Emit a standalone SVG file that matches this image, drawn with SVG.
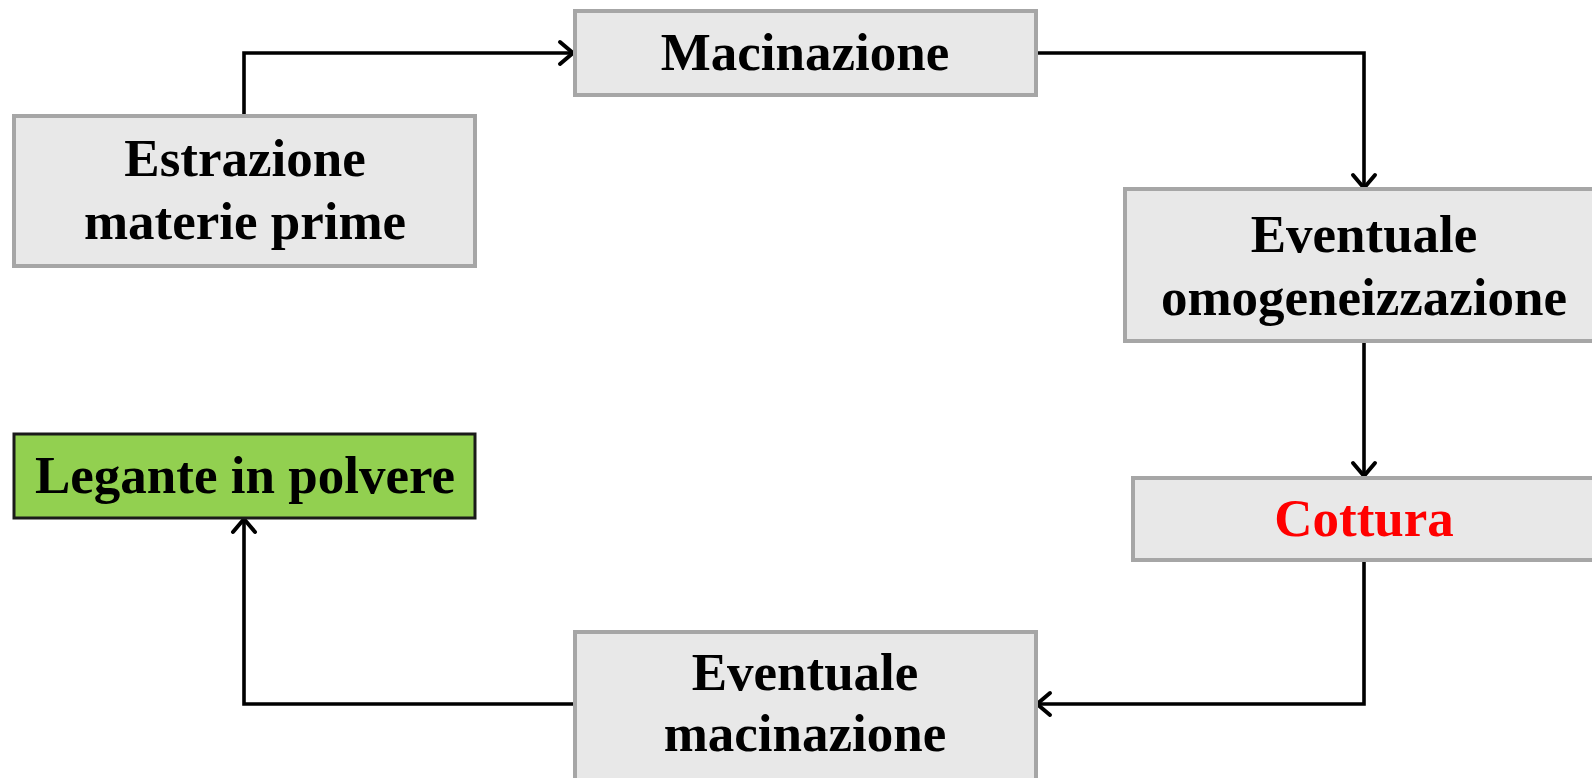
<svg xmlns="http://www.w3.org/2000/svg" width="1592" height="778" viewBox="0 0 1592 778">
<defs>
<marker id="arr" viewBox="0 0 30 30" refX="27" refY="15" markerWidth="30" markerHeight="30" markerUnits="userSpaceOnUse" orient="auto">
<path d="M14,4 L27,15 L14,26" fill="none" stroke="#000" stroke-width="4" stroke-linecap="round" stroke-linejoin="round"/>
</marker>
</defs>
<style>
.box{fill:#e8e8e8;stroke:#a6a6a6;stroke-width:4}
.green{fill:#92d050;stroke:#1a1a1a;stroke-width:3}
.t{font-family:"Liberation Serif","Times New Roman",serif;font-weight:bold;font-size:53px;fill:#000;text-anchor:middle}
.red{fill:#ff0000}
.c{fill:none;stroke:#000;stroke-width:3.6;marker-end:url(#arr)}
</style>
<rect width="1592" height="778" fill="#fff"/>
<g id="connectors">
<path class="c" d="M244,116 V53 H573"/>
<path class="c" d="M1036,53 H1364 V188"/>
<path class="c" d="M1364,341 V476"/>
<path class="c" d="M1364,560 V704 H1037"/>
<path class="c" d="M575,704 H244 V519"/>
</g>
<g id="estrazione">
<rect class="box" x="14" y="116" width="461" height="150"/>
<text class="t" x="245" y="176">Estrazione</text>
<text class="t" x="245" y="239">materie prime</text>
</g>
<g id="macinazione">
<rect class="box" x="575" y="11" width="461" height="84"/>
<text class="t" x="805" y="70">Macinazione</text>
</g>
<g id="omogeneizzazione">
<rect class="box" x="1125" y="189" width="480" height="152"/>
<text class="t" x="1364" y="252">Eventuale</text>
<text class="t" x="1364" y="315">omogeneizzazione</text>
</g>
<g id="cottura">
<rect class="box" x="1133" y="478" width="470" height="82"/>
<text class="t red" x="1364" y="536">Cottura</text>
</g>
<g id="macinazione2">
<rect class="box" x="575" y="632" width="461" height="160"/>
<text class="t" x="805" y="690">Eventuale</text>
<text class="t" x="805" y="751">macinazione</text>
</g>
<g id="legante">
<rect class="green" x="14" y="434" width="461" height="84"/>
<text class="t" x="245" y="493">Legante in polvere</text>
</g>
</svg>
